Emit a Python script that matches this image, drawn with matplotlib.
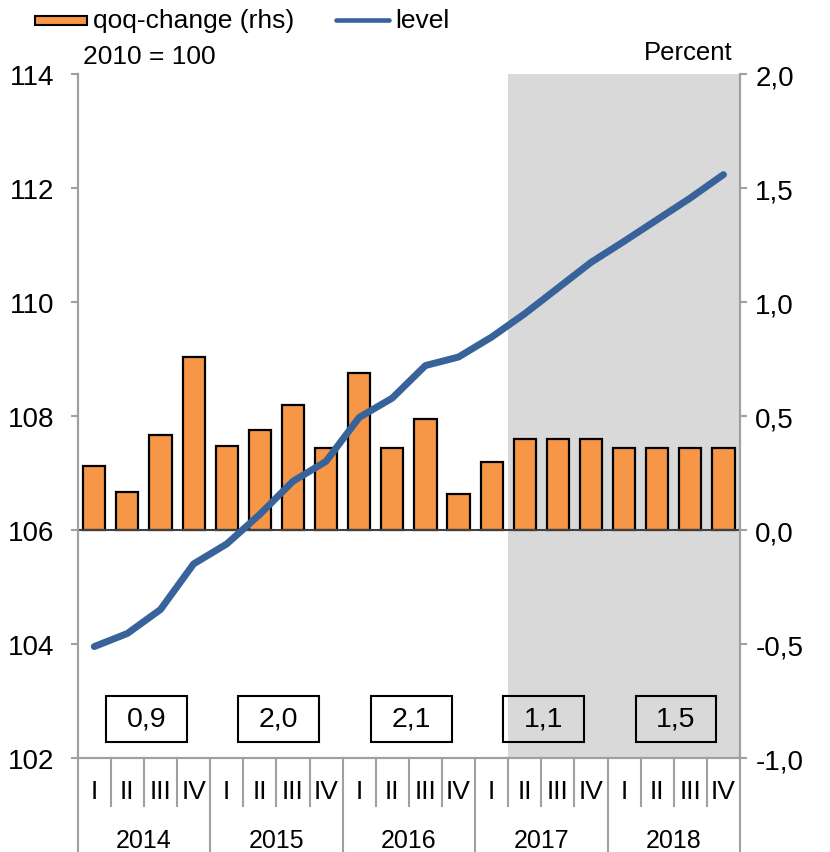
import matplotlib
matplotlib.use('Agg')
import matplotlib.pyplot as plt
from matplotlib.patches import Rectangle
from matplotlib.lines import Line2D
from matplotlib import font_manager
import numpy as np

plt.rcParams['font.family'] = ['Liberation Sans', 'DejaVu Sans']

years = ['2014', '2015', '2016', '2017', '2018']
quarters = ['I', 'II', 'III', 'IV']
qoq_change = [0.28, 0.17, 0.42, 0.76,
              0.37, 0.44, 0.55, 0.36,
              0.69, 0.36, 0.49, 0.16,
              0.30, 0.40, 0.40, 0.40,
              0.36, 0.36, 0.36, 0.36]
level = [103.96, 104.19, 104.61, 105.41,
         105.76, 106.28, 106.86, 107.21,
         107.98, 108.32, 108.89, 109.04,
         109.39, 109.80, 110.25, 110.70,
         111.07, 111.45, 111.83, 112.24]
annual_growth = ['0,9', '2,0', '2,1', '1,1', '1,5']
forecast_start = 13  # first shaded quarter (2017 II)

left_ticks = [102, 104, 106, 108, 110, 112, 114]
right_ticks = [-1.0, -0.5, 0.0, 0.5, 1.0, 1.5, 2.0]

ORANGE = '#F79646'
BLUE = '#37629A'
GRAY = '#A0A0A0'
SHADE = '#D9D9D9'

names = {f.name for f in font_manager.fontManager.ttflist}
narrow = 'Liberation Sans Narrow' if 'Liberation Sans Narrow' in names else 'Liberation Sans'
narrow_stretch = 'normal' if narrow == 'Liberation Sans Narrow' else 'condensed'

W, H = 830, 853
fig = plt.figure(figsize=(W / 100, H / 100), dpi=100)
ax = fig.add_axes([77.7 / W, 1 - 759.3 / H, (740 - 77.7) / W, (759.3 - 75.3) / H])
ax2 = ax.twinx()
ax.set_zorder(ax2.get_zorder() + 1)
ax.patch.set_visible(False)

n = len(qoq_change)
x = np.arange(n)

ax2.axvspan(forecast_start - 0.5, n - 0.5, color=SHADE, lw=0, zorder=0)
ax2.bar(x, qoq_change, width=0.67, color=ORANGE, edgecolor='black', linewidth=1.6, zorder=2)
ax2.axhline(0, color='#404040', lw=1.5, zorder=3)
ax2.set_ylim(-1, 2)
ax2.set_yticks(right_ticks)
ax2.set_yticklabels([f'{v:.1f}'.replace('.', ',') for v in right_ticks])

ax.plot(x, level, color=BLUE, lw=5, solid_capstyle='round', zorder=5)
ax.set_ylim(102, 114)
ax.set_xlim(-0.5, n - 0.5)
ax.set_yticks(left_ticks)
ax.set_yticklabels([str(v) for v in left_ticks])

for a in (ax, ax2):
    a.spines['top'].set_visible(False)
    for s in ('left', 'right', 'bottom'):
        a.spines[s].set_color(GRAY)
        a.spines[s].set_linewidth(1.5)
    a.set_xticks([])
ax.tick_params(axis='y', direction='out', length=5, width=1.5, color=GRAY, labelsize=20, pad=12)
ax2.tick_params(axis='y', direction='out', length=5, width=1.5, color=GRAY, labelsize=20, pad=6)

# category axis separators and labels
tr = ax.get_xaxis_transform()
ah = 759.3 - 75.3
ybot_q = -(807 - 759.3) / ah
ybot_y = -(853 - 759.3) / ah
for k in range(n + 1):
    xb = k - 0.5
    yb = ybot_y if k % 4 == 0 else ybot_q
    ax.add_line(Line2D([xb, xb], [0, yb], transform=tr, color=GRAY, lw=1.5, clip_on=False))
yq = -(792 - 759.3) / ah
yy = -(841 - 759.3) / ah
for i in range(n):
    ax.text(i, yq, quarters[i % 4], transform=tr, ha='center', va='center', fontsize=19,
            family=narrow, stretch=narrow_stretch)
for j, yr in enumerate(years):
    ax.text(4 * j + 1.5, yy, yr, transform=tr, ha='center', va='center', fontsize=18,
            family=narrow, stretch=narrow_stretch)

# annual growth boxes
for j, g in enumerate(annual_growth):
    cx = 4 * j + 1.57
    bw = 2.44
    ax.add_patch(Rectangle((cx - bw / 2, 102.28), bw, 0.82, facecolor='none',
                           edgecolor='black', lw=1.5, zorder=6))
    ax.text(cx, 102.69, g, ha='center', va='center', fontsize=20.5, zorder=7)

# axis unit labels
fig.text(83 / W, 1 - 57 / H, '2010 = 100', ha='left', va='center', fontsize=19)
fig.text(733 / W, 1 - 53 / H, 'Percent', ha='right', va='center', fontsize=18.5)

# legend
fig.add_artist(Rectangle((35 / W, 1 - 26 / H), 52 / W, 9.5 / H, transform=fig.transFigure,
                         facecolor=ORANGE, edgecolor='black', lw=1.5))
fig.text(93 / W, 1 - 21 / H, 'qoq-change (rhs)', ha='left', va='center', fontsize=19)
fig.add_artist(Line2D([336 / W, 389 / W], [1 - 20.5 / H, 1 - 20.5 / H], transform=fig.transFigure,
                      color=BLUE, lw=3.3, solid_capstyle='round'))
fig.text(395 / W, 1 - 21 / H, 'level', ha='left', va='center', fontsize=19)

fig.savefig('out.png', dpi=100)
